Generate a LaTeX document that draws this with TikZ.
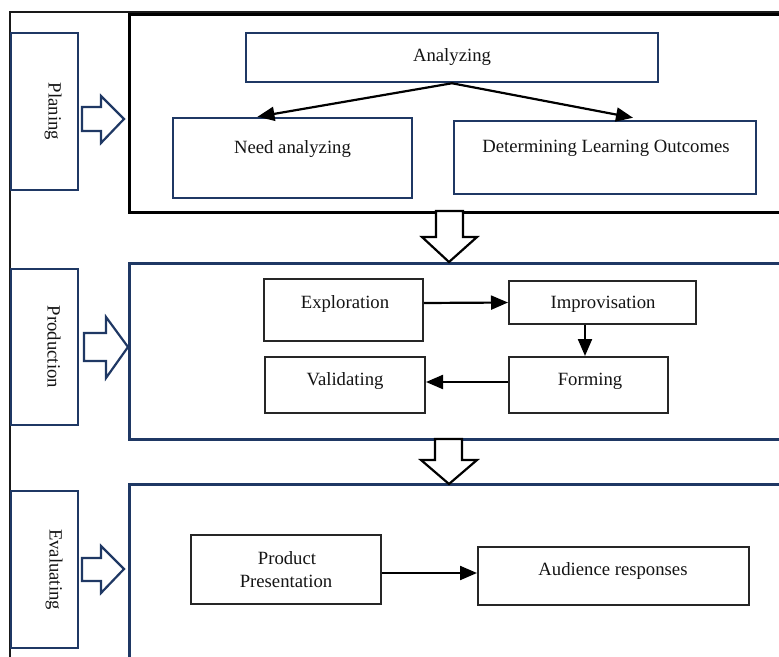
\documentclass[tikz,border=0pt]{standalone}
\usepackage{fontspec}
\setmainfont{Liberation Serif}
\usetikzlibrary{arrows.meta,calc}
\definecolor{navy}{RGB}{31,56,100}
\definecolor{txt}{RGB}{20,20,20}
\tikzset{
  navybox/.style={draw=navy, line width=2.5pt, inner sep=0pt},
  blackbox/.style={draw=black!85, line width=2pt, inner sep=0pt},
  lbl/.style={text=txt, font=\fontsize{18.7}{22}\selectfont, inner sep=0pt, anchor=base},
  sidelbl/.style={text=txt, font=\fontsize{18.7}{22}\selectfont, inner sep=0pt, rotate=-90},
  arr/.style={draw=black, line width=2.2pt, -{Triangle[length=17pt 0,width=14pt 0]}},
  hollownavy/.style={draw=navy, line width=2.2pt, fill=white, line join=miter},
  hollowblack/.style={draw=black, line width=2.2pt, fill=white, line join=miter}
}
\begin{document}
\begin{tikzpicture}[x=1pt,y=-1pt]
\useasboundingbox (0,0) rectangle (779,656);
\clip (0,0) rectangle (779,656);
\fill[white] (0,0) rectangle (779,656);
% outer frame
\draw[black!90, line width=1.2pt] (10,700) -- (10,12) -- (800,12);
% stage containers
\node[draw=black, line width=2.8pt, inner sep=0pt, minimum width=700pt, minimum height=198pt, anchor=north west] (plan) at (128,13) {};
\node[navybox, minimum width=700pt, minimum height=176pt, anchor=north west] (prodc) at (128,262) {};
\node[navybox, minimum width=700pt, minimum height=200pt, anchor=north west] (evalc) at (128,483) {};
% side label boxes
\node[navybox, minimum width=67pt, minimum height=157pt] (planlbl) at (44.5,111.5) {};
\node[navybox, minimum width=67pt, minimum height=156pt] (prodlbl) at (44.5,347) {};
\node[navybox, minimum width=67pt, minimum height=157pt] (evallbl) at (44.5,569.5) {};
\node[sidelbl] (planlbltxt) at (53,111.5) {Planing};
\node[sidelbl] (prodlbltxt) at (54,347) {Production};
\node[sidelbl] (evallbltxt) at (54,569.5) {Evaluating};
% hollow side arrows
\draw[hollownavy] (82,107) -- (101,107) -- (101,96) -- (124,119) -- (101,143) -- (101,131) -- (82,131) -- cycle;
\draw[hollownavy] (84,333) -- (106,333) -- (106,317) -- (128,347) -- (106,378) -- (106,361) -- (84,361) -- cycle;
\draw[hollownavy] (82,558) -- (101,558) -- (101,546) -- (124,569) -- (101,593) -- (101,581) -- (82,581) -- cycle;
% hollow down arrows
\draw[hollowblack] (436,211) -- (436,237) -- (422,237) -- (449,262) -- (477,237) -- (463,237) -- (463,211) -- cycle;
\draw[hollowblack] (435,439) -- (435,460) -- (421,460) -- (449,484) -- (477,460) -- (462,460) -- (462,439) -- cycle;
% planning boxes
\node[navybox, minimum width=412pt, minimum height=49pt] (ana) at (452,57.5) {};
\node[navybox, minimum width=239pt, minimum height=80pt] (need) at (292.5,158) {};
\node[navybox, minimum width=302pt, minimum height=73pt] (dlo) at (605,157.5) {};
\node[lbl] (anatxt) at (452,61) {Analyzing};
\node[lbl] (needtxt) at (292.5,153) {Need analyzing};
\node[lbl] (dlotxt) at (606,152.5) {Determining Learning Outcomes};
\draw[arr] (ana.south) -- ([xshift=-35pt]need.north);
\draw[arr] (ana.south) -- ([xshift=28pt,yshift=2pt]dlo.north);
% production boxes
\node[blackbox, minimum width=159pt, minimum height=62pt] (expl) at (343.5,310) {};
\node[blackbox, minimum width=187pt, minimum height=43pt] (impro) at (602.5,302.5) {};
\node[blackbox, minimum width=160pt, minimum height=56pt] (valid) at (345,385) {};
\node[blackbox, minimum width=159pt, minimum height=56pt] (form) at (588.5,385) {};
\node[lbl] (expltxt) at (345,308) {Exploration};
\node[lbl] (improtxt) at (603,308) {Improvisation};
\node[lbl] (validtxt) at (345,385) {Validating};
\node[lbl] (formtxt) at (590,385) {Forming};
\draw[arr] ([yshift=7pt]expl.east) -- (impro.west);
\draw[arr] ([xshift=-3.5pt]form.north |- impro.south) -- ([xshift=-3.5pt]form.north);
\draw[arr] ([yshift=3pt]form.west) -- ([yshift=3pt]valid.east);
% evaluating boxes
\node[blackbox, minimum width=190pt, minimum height=69pt] (prod) at (286,569.5) {};
\node[blackbox, minimum width=271pt, minimum height=58pt] (aud) at (613.5,576) {};
\node[lbl] (prodtxt1) at (287,564) {Product};
\node[lbl] (prodtxt2) at (286,587) {Presentation};
\node[lbl] (audtxt) at (613,575) {Audience responses};
\coordinate (prodout) at ([yshift=-3.5pt]prod.east);
\draw[arr] (prodout) -- (aud.west |- prodout);
\end{tikzpicture}
\end{document}
